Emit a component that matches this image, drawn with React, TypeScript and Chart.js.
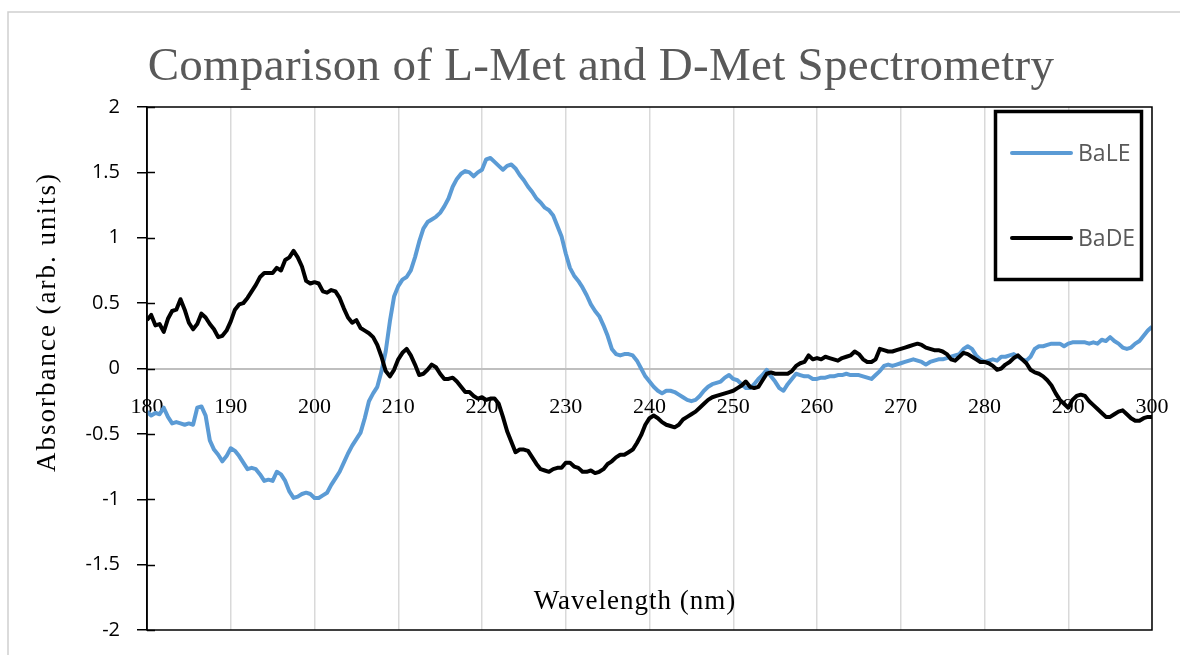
import React, { useEffect, useRef } from "react";
import { Chart, registerables } from "chart.js";

Chart.register(...registerables);

const TITLE = "Comparison of L-Met and D-Met Spectrometry";
const X_TITLE = "Wavelength (nm)";
const Y_TITLE = "Absorbance (arb. units)";
const SERIES_NAMES = ["BaLE", "BaDE"];
const SERIES_COLORS = ["#5B9BD5", "#000000"];

// wavelength grid: 180 .. 300 nm, every 0.5 nm
const WAVELENGTHS = Array.from({ length: 241 }, (_, i) => 180 + i * 0.5);

const BALE = [
  -0.33, -0.36, -0.34, -0.35, -0.30, -0.37, -0.42, -0.41, -0.42, -0.43, -0.42, -0.43, -0.30, -0.29, -0.36, -0.55, -0.62, -0.66, -0.71, -0.67,
  -0.61, -0.63, -0.67, -0.72, -0.77, -0.76, -0.77, -0.81, -0.86, -0.85, -0.86, -0.79, -0.81, -0.86, -0.94, -0.99, -0.98, -0.96, -0.95, -0.96,
  -0.99, -0.99, -0.97, -0.95, -0.89, -0.84, -0.79, -0.72, -0.65, -0.59, -0.54, -0.49, -0.38, -0.25, -0.19, -0.14, -0.02, 0.13, 0.36, 0.55,
  0.63, 0.68, 0.70, 0.75, 0.85, 0.97, 1.07, 1.12, 1.14, 1.16, 1.19, 1.24, 1.30, 1.39, 1.45, 1.49, 1.51, 1.50, 1.47, 1.50,
  1.52, 1.60, 1.61, 1.58, 1.55, 1.52, 1.55, 1.56, 1.53, 1.48, 1.44, 1.39, 1.35, 1.30, 1.27, 1.23, 1.21, 1.17, 1.09, 1.01,
  0.88, 0.77, 0.71, 0.67, 0.62, 0.56, 0.49, 0.44, 0.40, 0.33, 0.25, 0.15, 0.11, 0.10, 0.11, 0.11, 0.10, 0.06, 0.00, -0.06,
  -0.10, -0.14, -0.17, -0.19, -0.17, -0.17, -0.18, -0.20, -0.22, -0.24, -0.25, -0.24, -0.21, -0.17, -0.14, -0.12, -0.11, -0.10, -0.07, -0.05,
  -0.08, -0.09, -0.12, -0.15, -0.15, -0.12, -0.08, -0.05, -0.01, -0.06, -0.10, -0.15, -0.17, -0.12, -0.08, -0.04, -0.05, -0.06, -0.06, -0.08,
  -0.08, -0.07, -0.07, -0.06, -0.06, -0.05, -0.05, -0.04, -0.05, -0.05, -0.05, -0.06, -0.07, -0.08, -0.05, -0.02, 0.02, 0.03, 0.02, 0.03,
  0.04, 0.05, 0.06, 0.07, 0.06, 0.05, 0.03, 0.05, 0.06, 0.07, 0.07, 0.08, 0.09, 0.10, 0.11, 0.15, 0.17, 0.15, 0.10, 0.07,
  0.05, 0.06, 0.07, 0.06, 0.09, 0.09, 0.10, 0.11, 0.09, 0.07, 0.06, 0.09, 0.15, 0.17, 0.17, 0.18, 0.19, 0.19, 0.19, 0.17,
  0.19, 0.20, 0.20, 0.20, 0.20, 0.19, 0.20, 0.19, 0.22, 0.21, 0.24, 0.21, 0.19, 0.16, 0.15, 0.16, 0.19, 0.21, 0.25, 0.29,
  0.32,
];

const BADE = [
  0.37, 0.41, 0.33, 0.34, 0.28, 0.38, 0.44, 0.45, 0.53, 0.45, 0.35, 0.30, 0.34, 0.42, 0.39, 0.34, 0.30, 0.24, 0.25, 0.29,
  0.36, 0.45, 0.49, 0.50, 0.54, 0.59, 0.64, 0.70, 0.73, 0.73, 0.73, 0.77, 0.75, 0.83, 0.85, 0.90, 0.85, 0.78, 0.67, 0.65,
  0.66, 0.65, 0.59, 0.58, 0.60, 0.59, 0.54, 0.46, 0.39, 0.35, 0.37, 0.31, 0.29, 0.27, 0.24, 0.18, 0.09, -0.02, -0.06, -0.01,
  0.07, 0.12, 0.15, 0.10, 0.03, -0.05, -0.04, -0.01, 0.03, 0.01, -0.04, -0.08, -0.08, -0.07, -0.10, -0.14, -0.18, -0.18, -0.21, -0.23,
  -0.22, -0.24, -0.23, -0.23, -0.27, -0.37, -0.48, -0.56, -0.64, -0.62, -0.62, -0.63, -0.68, -0.73, -0.77, -0.78, -0.79, -0.77, -0.76, -0.76,
  -0.72, -0.72, -0.75, -0.76, -0.79, -0.79, -0.78, -0.80, -0.79, -0.77, -0.73, -0.71, -0.68, -0.66, -0.66, -0.64, -0.62, -0.57, -0.51, -0.43,
  -0.38, -0.36, -0.38, -0.41, -0.43, -0.44, -0.45, -0.43, -0.39, -0.37, -0.35, -0.33, -0.30, -0.27, -0.24, -0.22, -0.21, -0.20, -0.19, -0.18,
  -0.17, -0.15, -0.13, -0.10, -0.14, -0.15, -0.14, -0.09, -0.04, -0.03, -0.04, -0.04, -0.04, -0.04, -0.02, 0.02, 0.04, 0.05, 0.10, 0.07,
  0.08, 0.07, 0.09, 0.08, 0.07, 0.06, 0.08, 0.09, 0.10, 0.13, 0.11, 0.07, 0.05, 0.05, 0.07, 0.15, 0.14, 0.13, 0.13, 0.14,
  0.15, 0.16, 0.17, 0.18, 0.19, 0.18, 0.16, 0.15, 0.14, 0.14, 0.13, 0.11, 0.07, 0.06, 0.09, 0.12, 0.11, 0.09, 0.07, 0.05,
  0.05, 0.04, 0.02, -0.01, 0.00, 0.03, 0.05, 0.08, 0.10, 0.07, 0.04, -0.01, -0.03, -0.04, -0.06, -0.09, -0.13, -0.19, -0.24, -0.27,
  -0.30, -0.24, -0.21, -0.20, -0.21, -0.25, -0.28, -0.31, -0.34, -0.37, -0.37, -0.35, -0.33, -0.32, -0.35, -0.38, -0.40, -0.40, -0.38, -0.37,
  -0.37,
];

const X_MIN = 180;
const X_MAX = 300;
const X_STEP = 10;
const Y_MIN = -2;
const Y_MAX = 2;
const Y_STEP = 0.5;

const SERIF = "'Liberation Serif', 'Times New Roman', serif";
const SANS = "'Open Sans', 'Liberation Sans', sans-serif";

const decorPlugin = {
  id: "decor",
  afterDraw(chart: any) {
    const { ctx, chartArea, scales } = chart;
    const { left, right, top, bottom } = chartArea;
    ctx.save();

    // outer frame
    ctx.strokeStyle = "#cfcfcf";
    ctx.lineWidth = 1.5;
    ctx.strokeRect(8, 12, 1200, 700);

    // chart title
    ctx.fillStyle = "#595959";
    ctx.textAlign = "center";
    ctx.textBaseline = "alphabetic";
    ctx.font = `47px ${SERIF}`;
    (ctx as any).letterSpacing = "0.3px";
    ctx.fillText(TITLE, 601, 80);

    // plot area border
    ctx.strokeStyle = "#000";
    ctx.lineWidth = 1.5;
    ctx.strokeRect(left, top, right - left, bottom - top);

    // inner halves of y tick marks
    const ys = scales.y;
    ctx.lineWidth = 1.5;
    ys.ticks.forEach((t: any) => {
      const py = Math.round(ys.getPixelForValue(t.value)) + 0.5;
      ctx.beginPath();
      ctx.moveTo(left, py);
      ctx.lineTo(left + 8, py);
      ctx.stroke();
    });

    // axis titles
    ctx.fillStyle = "#000";
    ctx.textAlign = "center";
    ctx.textBaseline = "middle";
    (ctx as any).letterSpacing = "1px";
    ctx.font = `27px ${SERIF}`;
    ctx.fillText(X_TITLE, 635, 602);
    ctx.save();
    ctx.translate(48, 322);
    ctx.rotate(-Math.PI / 2);
    ctx.font = `27px ${SERIF}`;
    (ctx as any).letterSpacing = "2px";
    ctx.fillText(Y_TITLE, 0, 0);
    ctx.restore();
    (ctx as any).letterSpacing = "0px";

    // legend box
    const lx = 995.5, ly = 111.5, lw = 146, lh = 168;
    ctx.fillStyle = "#fff";
    ctx.fillRect(lx, ly, lw, lh);
    ctx.strokeStyle = "#000";
    ctx.lineWidth = 3.5;
    ctx.strokeRect(lx, ly, lw, lh);
    const entryY = [153, 238];
    chart.data.datasets.forEach((ds: any, i: number) => {
      const y = entryY[i];
      ctx.strokeStyle = ds.borderColor;
      ctx.lineWidth = 4;
      ctx.lineCap = "round";
      ctx.beginPath();
      ctx.moveTo(1012, y);
      ctx.lineTo(1071, y);
      ctx.stroke();
      ctx.fillStyle = "#595959";
      ctx.textAlign = "left";
      ctx.textBaseline = "middle";
      ctx.font = `23px ${SANS}`;
      ctx.fillText(ds.label, 1078, y + 1);
    });

    ctx.restore();
  },
};

export default function App() {
  const canvasRef = useRef<HTMLCanvasElement | null>(null);

  useEffect(() => {
    if (!canvasRef.current) return;
    const chart = new Chart(canvasRef.current, {
      type: "line",
      data: {
        datasets: [
          {
            label: SERIES_NAMES[0],
            data: WAVELENGTHS.map((x, i) => ({ x, y: BALE[i] })),
            borderColor: SERIES_COLORS[0],
            backgroundColor: SERIES_COLORS[0],
            borderWidth: 4,
            pointRadius: 0,
            tension: 0,
            fill: false,
            borderJoinStyle: "round",
            order: 1,
          },
          {
            label: SERIES_NAMES[1],
            data: WAVELENGTHS.map((x, i) => ({ x, y: BADE[i] })),
            borderColor: SERIES_COLORS[1],
            backgroundColor: SERIES_COLORS[1],
            borderWidth: 4,
            pointRadius: 0,
            tension: 0,
            fill: false,
            borderJoinStyle: "round",
            order: 0,
          },
        ],
      },
      options: {
        animation: false,
        responsive: false,
        events: [],
        layout: { padding: { left: 0, right: 28, top: 107, bottom: 25 } },
        plugins: {
          legend: { display: false },
          tooltip: { enabled: false },
          title: { display: false },
        },
        scales: {
          x: {
            type: "linear",
            position: { y: 0 },
            min: X_MIN,
            max: X_MAX,
            ticks: {
              stepSize: X_STEP,
              autoSkip: false,
              maxRotation: 0,
              color: "#000",
              padding: 26,
              font: { family: SERIF, size: 22 },
            },
            grid: { color: "#d9d9d9", lineWidth: 1.5, drawTicks: false },
            border: { color: "#bfbfbf", width: 2 },
            afterFit: (s: any) => {
              s.paddingLeft = 0;
              s.paddingRight = 0;
            },
          },
          y: {
            type: "linear",
            position: "left",
            min: Y_MIN,
            max: Y_MAX,
            ticks: {
              stepSize: Y_STEP,
              color: "#000",
              padding: 17,
              font: { family: SANS, size: 20 },
              callback: (v: any) => String(v),
            },
            grid: {
              drawOnChartArea: false,
              drawTicks: true,
              tickLength: 10,
              color: "#000",
              lineWidth: 1.5,
            },
            border: { color: "#000", width: 1.5 },
            afterFit: (s: any) => {
              s.width = 147;
              s.paddingTop = 0;
              s.paddingBottom = 0;
            },
          },
        },
      },
      plugins: [decorPlugin],
    });
    return () => chart.destroy();
  }, []);

  return (
    <div style={{ position: "fixed", left: 0, top: 0, width: 1180, height: 655, background: "#fff" }}>
      <canvas ref={canvasRef} width={1180} height={655} style={{ display: "block" }} />
    </div>
  );
}
